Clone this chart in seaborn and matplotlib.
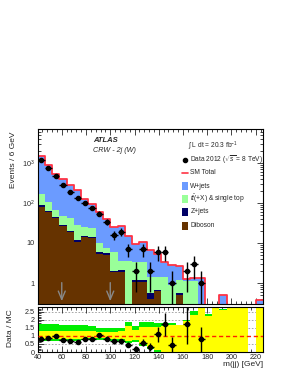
import numpy as np
import pandas as pd
import matplotlib
matplotlib.use("Agg")
import matplotlib.pyplot as plt
from matplotlib.patches import Rectangle
from matplotlib.lines import Line2D
from matplotlib.ticker import MultipleLocator, LogLocator, NullFormatter, FixedLocator, FixedFormatter
import seaborn as sns

# m(jj) bins, 6 GeV wide
edges = np.arange(40, 227, 6)
centers = edges[:-1] + 3

# stack components (events / bin), bottom to top: diboson, Z+jets, ttbar, W+jets
diboson = [81, 58, 41, 27, 19, 10.8, 14.4, 13, 5.3, 5.0, 1.85, 1.85, 0, 1.08, 1.08, 0.4,
           0.63, 0, 0, 0.5, 0, 0, 0, 0, 0, 0, 0, 0, 0, 0, 0]
zjets = [6, 4, 2.5, 1.5, 1.2, 0.8, 0.8, 0.8, 0.5, 0.5, 0.2, 0.3, 0.02, 0.08, 0.08, 0.18,
         0.05, 0, 0, 0.05, 0, 0, 0, 0, 0, 0, 0, 0, 0, 0, 0]
ttbar = [78, 46, 23.5, 19.5, 20.8, 16.4, 10.4, 9.2, 4.0, 1.9, 4.05, 1.35, 3.48, 2.14, 2.14,
         0.86, 0.76, 1.44, 0.9, 0.65, 1.1, 1.1, 0, 0, 0, 0, 0, 0, 0, 0, 0]
wjets = [1335, 762, 453, 342, 244, 187, 96.4, 69, 48.2, 32.6, 18.9, 23.5, 11.1, 6.2, 7.2,
         5.06, 3.76, 1.86, 1.9, 1.4, 0.14, 0.27, 1.3, 0, 0, 0.5, 0, 0, 0, 0, 0.38]

data = [1190, 740, 480, 277, 190, 136, 100, 75, 54, 34, 16, 19, 7, 2, 7, 2,
        6, 6, 1, 0, 2, 3, 1, 0, 0, 0, 0, 0, 0, 0, 0]

# Data / MC ratio as drawn
ratio = [0.79, 0.9, 0.98, 0.73, 0.66, 0.63, 0.84, 0.78, 1.04, 0.84, 0.66, 0.66, 0.46,
         0.21, 0.59, 0.32, 1.09, 1.72, 0.46, np.nan, 1.77, np.nan, 0.79, np.nan,
         np.nan, np.nan, np.nan, np.nan, np.nan, np.nan, np.nan]

# uncertainty bands in the ratio panel
green_lo = [0.68, 0.68, 0.68, 0.7, 0.7, 0.7, 0.72, 0.75, 0.75, 0.75, 0.7, 0.65, 0.55, 0.6,
            0.35, 0.2, 0, 0, 0, 0, 0, 0, 0, 0, 0, 0, 0, 0, 0, np.nan, 0]
green_hi = [1.72, 1.72, 1.72, 1.7, 1.7, 1.7, 1.65, 1.6, 1.5, 1.48, 1.48, 1.5, 1.88, 1.6,
            1.88, 1.88, 1.8, 1.8, 1.8, 1.7, 2.0, 2.55, 2.8, 2.35, 2.8, 2.7, 2.8, 2.8, 2.8,
            np.nan, 2.8]
yellow_lo = [0.82, 0.82, 0.82, 0.82, 0.82, 0.82, 0.82, 0.85, 0.85, 0.85, 0.82, 0.8, 0.7,
             0.75, 0.5, 0.3, 0.1, 0, 0, 0, 0, 0, 0, 0, 0, 0, 0, 0, 0, np.nan, 0]
yellow_hi = [1.28, 1.28, 1.28, 1.3, 1.3, 1.3, 1.3, 1.3, 1.25, 1.25, 1.25, 1.3, 1.6, 1.4,
             1.55, 1.55, 1.55, 1.6, 1.65, 1.65, 1.9, 2.3, 2.8, 2.25, 2.8, 2.6, 2.8, 2.8,
             2.8, np.nan, 2.8]

processes = ["W+jets", r"$t\bar{t}$(+X) & single top", "Z+jets", "Diboson"]
colors = {"W+jets": "#6b9bff", processes[1]: "#99ff99", "Z+jets": "#000066", "Diboson": "#663300"}
sm_color = "#ff3344"

sns.set_style("ticks")
plt.rcParams["font.family"] = ["Liberation Sans", "DejaVu Sans"]
plt.rcParams["mathtext.fontset"] = "custom"
plt.rcParams["mathtext.rm"] = "Liberation Sans"
plt.rcParams["mathtext.it"] = "Liberation Sans:italic"

rows = []
for name, vals in zip(processes, [wjets, ttbar, zjets, diboson]):
    for c, v in zip(centers, vals):
        rows.append({"mjj": c, "events": v, "process": name})
df = pd.DataFrame(rows)
sm = np.array(wjets) + np.array(ttbar) + np.array(zjets) + np.array(diboson)
bin_list = [float(e) for e in edges]

fig = plt.figure(figsize=(2.89, 3.74), dpi=100)
ax = fig.add_axes([0.1298, 0.1872, 0.7803, 0.4679])
rax = fig.add_axes([0.1298, 0.0588, 0.7803, 0.1203])

ax.set_yscale("log")
sns.histplot(data=df, x="mjj", weights="events", hue="process", hue_order=processes,
             bins=bin_list, multiple="stack", element="bars", palette=colors,
             linewidth=0, alpha=1, legend=False, ax=ax)
sm_df = pd.DataFrame({"mjj": centers, "events": sm})
sns.histplot(data=sm_df, x="mjj", weights="events", bins=bin_list, element="step",
             fill=False, color=sm_color, linewidth=1.3, ax=ax)

d = np.array(data, dtype=float)
m = d > 0
ax.errorbar(centers[m], d[m], yerr=np.sqrt(d[m]), xerr=3, fmt="o", color="k",
            ms=3, elinewidth=1, capsize=0, zorder=5)

for xa in [60, 100]:
    ax.annotate("", xy=(xa, 0.3), xytext=(xa, 1.2),
                arrowprops=dict(arrowstyle="->,head_width=0.25,head_length=0.6",
                                color="#888888", lw=1.0))

ax.set_xlim(40, 226)
ax.set_ylim(0.3, 7000)
ax.set_xlabel("")
ax.set_ylabel("")
ax.yaxis.set_major_locator(FixedLocator([1, 10, 100, 1000]))
ax.yaxis.set_major_formatter(FixedFormatter(["1", "10", r"10$^{2}$", r"10$^{3}$"]))
ax.yaxis.set_minor_locator(LogLocator(base=10, subs=np.arange(2, 10)))
ax.yaxis.set_minor_formatter(NullFormatter())

# ratio panel
for yl in [0.5, 1.5, 2, 2.5]:
    rax.axhline(yl, color="#999999", ls=(0, (2, 2)), lw=0.6, zorder=0)
gl = np.array(green_lo); gh = np.array(green_hi)
yl_ = np.array(yellow_lo); yh = np.array(yellow_hi)
ok = ~np.isnan(gl)
rax.bar(edges[:-1][ok], (gh - gl)[ok], bottom=gl[ok], width=6, align="edge",
        color="#00ee00", linewidth=0, zorder=1)
rax.bar(edges[:-1][ok], (yh - yl_)[ok], bottom=yl_[ok], width=6, align="edge",
        color="#ffff00", linewidth=0, zorder=2)
rax.axhline(1, color="#ff2200", ls=(0, (3, 2)), lw=1.0, zorder=3)
r = np.array(ratio)
rm = ~np.isnan(r)
rerr = np.where(d > 0, r / np.sqrt(np.where(d > 0, d, 1)), 0)
rax.errorbar(centers[rm], r[rm], yerr=rerr[rm], xerr=3, fmt="o", color="k",
             ms=3, elinewidth=1, capsize=0, zorder=5)
rax.set_xlim(40, 226)
rax.set_ylim(0, 2.8)
rax.yaxis.set_major_locator(FixedLocator([0, 0.5, 1, 1.5, 2, 2.5]))
rax.yaxis.set_major_formatter(FixedFormatter(["0", "0.5", "1", "1.5", "2", "2.5"]))
rax.yaxis.set_minor_locator(MultipleLocator(0.1))
rax.set_xlabel("")
rax.set_ylabel("")

for a in (ax, rax):
    a.xaxis.set_major_locator(MultipleLocator(20))
    a.xaxis.set_minor_locator(MultipleLocator(4))
    a.tick_params(which="both", direction="in", top=True, right=True, labelsize=5.2,
                  width=0.6, pad=2)
    a.tick_params(which="major", length=4)
    a.tick_params(which="minor", length=2)
    for s in a.spines.values():
        s.set_linewidth(0.8)
        s.set_color("k")
ax.tick_params(axis="x", labelbottom=False)
rax.tick_params(axis="x", pad=1.5)

# labels and legend
fig.text(14 / 289, 1 - 160 / 374, "Events / 6 GeV", rotation=90, ha="center", va="center",
         fontsize=6)
fig.text(11 / 289, 1 - 328 / 374, "Data / MC", rotation=90, ha="center", va="center",
         fontsize=6)
fig.text(263 / 289, 1 - 364 / 374, "m(jj) [GeV]", ha="right", va="center", fontsize=6)

ax.text(0.246, 0.937, "ATLAS", transform=ax.transAxes, fontsize=5.5, fontweight="bold",
        fontstyle="italic", va="center")
ax.text(0.246, 0.877, "CRW - 2j (W)", transform=ax.transAxes, fontsize=5.2,
        fontstyle="italic", va="center")
ax.text(0.668, 0.905, r"$\int$ L dt = 20.3 fb$^{-1}$", transform=ax.transAxes,
        fontsize=4.8, va="center")

lx, tx = 0.654, 0.678
ax.plot([lx], [0.823], "o", color="k", ms=3, transform=ax.transAxes, clip_on=False)
ax.text(tx, 0.823, r"Data 2012 ($\sqrt{s}$ = 8 TeV)", transform=ax.transAxes,
        fontsize=4.8, va="center")
ax.add_line(Line2D([lx - 0.014, lx + 0.014], [0.749, 0.749], color=sm_color, lw=1.2,
                   transform=ax.transAxes))
ax.text(tx, 0.749, "SM Total", transform=ax.transAxes, fontsize=4.8, va="center")
for name, yy in zip(processes, [0.674, 0.6, 0.526, 0.447]):
    ax.add_patch(Rectangle((lx - 0.015, yy - 0.022), 0.03, 0.044, facecolor=colors[name],
                           edgecolor="none", transform=ax.transAxes))
    ax.text(tx, yy, name, transform=ax.transAxes, fontsize=4.8, va="center")

fig.savefig("out.png", dpi=100)
